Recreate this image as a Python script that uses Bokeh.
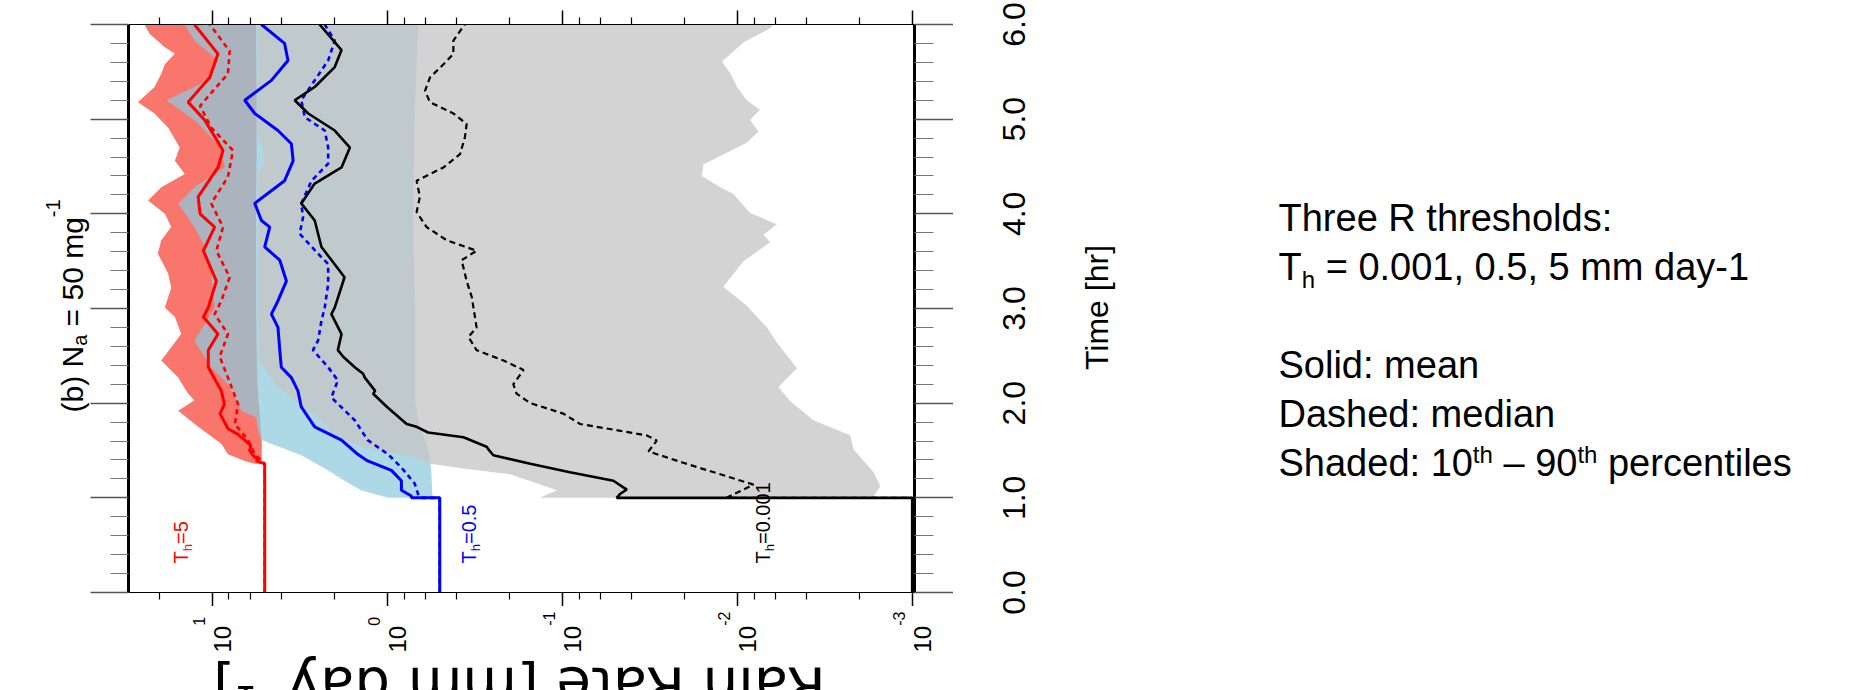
import math
from bokeh.plotting import figure
from bokeh.models import Range1d, LinearAxis, LogAxis, FixedTicker, Label
from bokeh.layouts import row, column
from bokeh.embed import file_html
from bokeh.resources import INLINE

# ---------------- axis ticks ----------------
time_ticks = [0, 1, 2, 3, 4, 5, 6]
time_minor_ticks = [0.2, 0.4, 0.6, 0.8, 1.2, 1.4, 1.6, 1.8, 2.2, 2.4, 2.6, 2.8,
                    3.2, 3.4, 3.6, 3.8, 4.2, 4.4, 4.6, 4.8, 5.2, 5.4, 5.6, 5.8]
time_tick_labels = ["0.0", "1.0", "2.0", "3.0", "4.0", "5.0", "6.0"]
rate_ticks = [10, 1, 0.1, 0.01, 0.001]
rate_minor_ticks = [20, 8, 6, 4, 2, 0.8, 0.6, 0.4, 0.2, 0.08, 0.06, 0.04, 0.02,
                    0.008, 0.006, 0.004, 0.002]
rate_tick_exponents = ["1", "0", "-1", "-2", "-3"]

# ---------------- series: T_h = 5 (red) ----------------
red_mean_t = [0.0, 1.36, 1.39, 1.41, 1.43, 1.46, 1.50, 1.55, 1.61, 1.67, 1.73, 1.89, 1.99,
              2.13, 2.38, 2.56, 2.73, 2.91, 3.01, 3.29, 3.61, 3.86, 4.00, 4.18, 4.49,
              4.67, 4.99, 5.18, 5.44, 5.69, 6.0]
red_mean_v = [5.0, 5.0, 5.6, 5.35, 5.7, 5.9, 6.1, 6.0, 6.5, 7.1, 8.1, 9.0, 8.5,
              8.85, 10.5, 10.5, 9.25, 11.2, 10.5, 9.44, 11.2, 9.66, 11.7, 12.0, 9.25,
              8.65, 11.0, 13.7, 10.3, 9.25, 12.6]
red_med_t = [0.0, 1.36, 1.46, 1.61, 1.78, 1.99, 2.27, 2.49, 2.73, 2.94, 3.08, 3.33, 3.61,
             3.86, 4.11, 4.39, 4.67, 4.91, 5.14, 5.34, 5.48, 5.72, 6.0]
red_med_v = [5.0, 5.0, 5.7, 6.22, 7.41, 7.10, 8.11, 9.04, 8.11, 9.66, 8.85, 7.93, 9.44,
             8.65, 10.1, 8.11, 7.59, 10.1, 11.7, 9.44, 8.11, 7.93, 10.3]
red_p90_t = [1.36, 1.39, 1.46, 1.57, 1.75, 1.92, 2.03, 2.10, 2.27, 2.45, 2.73, 2.91, 3.01,
             3.22, 3.37, 3.58, 3.72, 3.86, 4.00, 4.14, 4.28, 4.42, 4.56, 4.70, 4.91,
             5.06, 5.18, 5.34, 5.48, 5.58, 5.69, 5.76, 5.90, 6.0]
red_p90_v = [5.7, 6.5, 8.11, 8.85, 12.0, 15.6, 12.6, 13.7, 15.6, 19.5, 15.0, 16.3, 18.6,
             17.1, 17.8, 20.4, 19.5, 17.1, 18.6, 23.2, 19.5, 14.3, 16.3, 15.3, 17.8,
             21.3, 26.5, 21.3, 19.5, 18.6, 16.3, 18.6, 22.7, 24.3]
red_p10_t = [1.36, 1.6, 1.9, 2.2, 2.5, 3.0, 4.0, 5.0, 6.0]
red_p10_v = [5.2, 5.2, 5.35, 5.5, 5.55, 5.6, 5.6, 5.55, 5.6]

# ---------------- series: T_h = 0.5 (blue) ----------------
blue_mean_t = [0.0, 1.0, 1.0, 1.02, 1.08, 1.18, 1.29, 1.39, 1.46, 1.61, 1.75, 1.96, 2.13,
               2.27, 2.38, 2.56, 2.80, 2.94, 3.08, 3.29, 3.51, 3.65, 3.86, 3.93, 4.11,
               4.35, 4.56, 4.74, 4.88, 5.06, 5.20, 5.41, 5.62, 5.80, 6.0]
blue_mean_v = [0.5, 0.5, 0.726, 0.726, 0.828, 0.828, 0.944, 1.29, 1.47, 1.82, 2.59, 3.09, 3.23,
               3.52, 4.02, 4.10, 4.20, 4.58, 4.20, 3.76, 4.10, 5.00, 4.68, 5.22, 5.70,
               3.85, 3.44, 3.52, 4.20, 5.70, 6.50, 4.58, 3.68, 3.85, 5.22]
blue_med_t = [0.0, 1.0, 1.0, 1.04, 1.15, 1.32, 1.46, 1.61, 1.82, 2.06, 2.24, 2.38, 2.56,
              2.66, 2.87, 3.01, 3.26, 3.47, 3.58, 3.79, 3.96, 4.11, 4.35, 4.53, 4.70,
              4.88, 5.02, 5.20, 5.41, 5.62, 5.83, 6.0]
blue_med_v = [0.5, 0.5, 0.637, 0.665, 0.695, 0.828, 0.986, 1.29, 1.53, 2.08, 1.91, 2.17, 2.65,
              2.48, 2.37, 2.27, 2.17, 2.17, 2.48, 3.16, 3.02, 3.09, 2.70, 2.17, 2.17,
              2.27, 2.95, 3.09, 2.59, 2.17, 1.99, 2.27]
blue_p90_t = [1.0, 1.08, 1.18, 1.29, 1.45, 1.61, 1.71, 1.85, 1.92, 2.2, 2.38, 2.66, 3.01,
              3.37, 3.65, 3.86, 4.11, 4.28, 4.49, 4.70, 4.99, 5.20, 5.41, 5.62, 5.83, 6.0]
blue_p90_v = [0.986, 1.41, 1.75, 2.17, 3.09, 5.22, 5.46, 5.6, 6.79, 8.11, 10.1, 12.6, 9.66,
              10.1, 11.0, 12.6, 15.6, 12.6, 8.47, 8.85, 12.6, 18.2, 10.5, 9.25, 12.6, 14.3]
blue_p10_t = [1.0, 1.3, 1.5, 1.8, 2.0, 3.0, 3.9, 5.0, 6.0]
blue_p10_v = [0.55, 0.56, 0.58, 0.66, 0.69, 0.69, 0.71, 0.695, 0.665]

# ---------------- series: T_h = 0.001 (black) ----------------
blk_mean_t = [0.0, 1.0, 1.0, 1.04, 1.09, 1.11, 1.18, 1.27, 1.36, 1.45, 1.51, 1.54, 1.64,
              1.69, 1.75, 1.78, 1.96, 2.10, 2.13, 2.27, 2.31, 2.38, 2.49, 2.56, 2.73,
              2.94, 3.01, 3.33, 3.65, 3.93, 4.11, 4.32, 4.49, 4.70, 4.88, 5.06, 5.20,
              5.34, 5.55, 5.73, 6.0]
blk_mean_v = [0.001, 0.001, 0.0488, 0.0467, 0.0427, 0.0447, 0.0509, 0.0902, 0.152, 0.247,
              0.263, 0.270, 0.366, 0.583, 0.678, 0.773, 1.0, 1.20, 1.17, 1.34, 1.37, 1.53,
              1.78, 1.91, 1.82, 2.08, 1.99, 1.75, 2.37, 2.59, 3.09, 2.59, 1.82, 1.63, 1.99,
              2.82, 3.37, 2.59, 1.99, 1.82, 2.43]
blk_med_t = [0.0, 1.0, 1.0, 1.14, 1.37, 1.49, 1.605, 1.66, 1.78, 1.89, 2.0, 2.10, 2.20,
             2.35, 2.45, 2.56, 2.70, 2.80, 3.01, 3.12, 3.29, 3.51, 3.61, 3.72, 3.86, 4.02,
             4.18, 4.35, 4.49, 4.63, 4.81, 4.95, 5.06, 5.18, 5.30, 5.44, 5.58, 5.69, 5.83,
             6.0]
blk_med_v = [0.001, 0.001, 0.0115, 0.00807, 0.0203, 0.0321, 0.0288, 0.0329, 0.0789, 0.0984,
             0.152, 0.182, 0.190, 0.166, 0.216, 0.308, 0.343, 0.308, 0.321, 0.328, 0.351,
             0.375, 0.308, 0.456, 0.594, 0.678, 0.649, 0.678, 0.476, 0.383, 0.359, 0.351,
             0.418, 0.569, 0.607, 0.569, 0.476, 0.418, 0.418, 0.36]
gray_p90_t = [1.0, 1.08, 1.25, 1.31, 1.36, 1.43, 1.535, 1.68, 1.75, 2.17, 2.45, 3.0, 4.45,
              4.55, 4.7, 4.8, 6.0]
gray_p90_v = [0.134, 0.107, 0.198, 0.368, 0.568, 0.71, 1.37, 2.12, 2.17, 4.2, 5.4, 5.45,
              5.45, 5.05, 5.1, 5.45, 5.45]
gray_p10_t = [1.0, 1.02, 1.12, 1.27, 1.51, 1.66, 1.82, 2.02, 2.17, 2.37, 2.64, 2.80, 3.03,
              3.23, 3.50, 3.70, 3.78, 3.89, 4.01, 4.21, 4.28, 4.40, 4.52, 4.75, 4.87, 4.99,
              5.10, 5.20, 5.34, 5.49, 5.61, 5.81, 5.96, 6.0]
gray_p10_v = [0.00152, 0.00166, 0.00152, 0.00166, 0.00216, 0.00226, 0.00366, 0.00498,
              0.00581, 0.00456, 0.00593, 0.00676, 0.00881, 0.0120, 0.0092, 0.00647, 0.00708,
              0.00593, 0.00843, 0.0105, 0.0125, 0.0159, 0.0156, 0.00881, 0.00755, 0.00843,
              0.0074, 0.00881, 0.0100, 0.0110, 0.0122, 0.0092, 0.00647, 0.0062]

# ---------------- page geometry (pixels) ----------------
W, H = 1855, 690
FL, FR, FT, FB = 128, 914, 24, 592          # plot frame
ML, MR, MB = 90, 953, 606                    # main figure incl. tick borders
X_START, X_END = 30.0, 0.00097
T_MIN, T_MAX = 0.0, 6.0
LOG_L, LOG_R = math.log10(X_START), math.log10(X_END)
BASE_K = 0.27      # Bokeh's "alphabetic" anchor sits this many em above the baseline


def sx(px):
    """page pixel x -> rain-rate value on the log axis"""
    return 10 ** (LOG_L + (px - FL) / (FR - FL) * (LOG_R - LOG_L))


def rate_px(v):
    return FL + (math.log10(v) - LOG_L) / (LOG_R - LOG_L) * (FR - FL)


def sy(py):
    """page pixel y -> time value"""
    return T_MIN + (FB - py) / (FB - FT) * (T_MAX - T_MIN)


def t_to_py(t):
    return FB - (t - T_MIN) / (T_MAX - T_MIN) * (FB - FT)


ARIAL = {'T': 611, 'h': 556, 'r': 333, 'e': 556, 'R': 722, 't': 278, 's': 500, 'o': 556,
         'l': 222, 'd': 556, ':': 278, ' ': 278, '=': 584, '0': 556, '1': 556, '2': 556,
         '3': 556, '5': 556, '9': 556, '.': 278, ',': 278, 'm': 833, 'a': 556, 'y': 500,
         '-': 333, 'S': 667, 'i': 222, 'n': 556, 'D': 722, 'p': 556, 'c': 500,
         '\u2013': 556, '(': 333, ')': 333, 'b': 556, 'N': 722, 'g': 556}


def adv(text, size):
    return sum(ARIAL.get(c, 556) for c in text) * size / 1000.0


FONT = "Liberation Sans"


def blank(fig):
    fig.outline_line_color = None
    fig.background_fill_color = "white"
    fig.border_fill_color = "white"
    fig.xgrid.visible = False
    fig.ygrid.visible = False
    try:
        fig.frame_align = False
    except Exception:
        pass


def rotated_pieces(fig, to_x, to_y, base_px, start_py, pieces, color="black"):
    """text reading bottom-to-top; base_px is the wanted baseline x (page px)."""
    along = 0.0
    for text, size, shift in pieces:
        lead = len(text) - len(text.lstrip(" "))
        along += adv(" " * lead, size)
        body = text.lstrip(" ")
        fig.add_layout(Label(x=to_x(base_px + shift - BASE_K * size),
                             y=to_y(start_py - along), text=body,
                             text_font=FONT, text_font_size=f"{size}px", text_color=color,
                             angle=math.pi / 2, text_align="left",
                             text_baseline="alphabetic"))
        along += adv(body, size)


# ================= main plot =================
p = figure(width=MR - ML, height=MB, x_axis_type="log", title=None,
           x_range=Range1d(X_START, X_END), y_range=Range1d(T_MIN, T_MAX),
           output_backend="svg", toolbar_location=None,
           min_border_left=FL - ML, min_border_right=MR - FR,
           min_border_top=FT, min_border_bottom=MB - FB)
blank(p)

rate_ticker = FixedTicker(ticks=rate_ticks, minor_ticks=rate_minor_ticks)
time_ticker = FixedTicker(ticks=time_ticks, minor_ticks=time_minor_ticks)


def style_rate_axis(ax):
    ax.ticker = rate_ticker
    ax.major_tick_out = 14
    ax.major_tick_in = 0
    ax.minor_tick_out = 7
    ax.minor_tick_in = 0
    ax.axis_line_width = 1.2
    ax.axis_line_color = "black"
    ax.major_tick_line_color = "black"
    ax.major_tick_line_width = 1.5
    ax.minor_tick_line_color = "black"
    ax.minor_tick_line_width = 1.2
    ax.major_label_text_color = None
    ax.major_label_text_font_size = "0px"
    ax.major_label_standoff = 0


def style_time_axis(ax, major, minor):
    ax.ticker = time_ticker
    ax.major_tick_out = major
    ax.major_tick_in = 0
    ax.minor_tick_out = minor
    ax.minor_tick_in = 0
    ax.axis_line_width = 3
    ax.axis_line_color = "black"
    ax.major_tick_line_color = "#555555"
    ax.major_tick_line_width = 1.3
    ax.minor_tick_line_color = "#777777"
    ax.minor_tick_line_width = 1.1
    ax.major_label_text_color = None
    ax.major_label_text_font_size = "0px"
    ax.major_label_standoff = 0


style_rate_axis(p.xaxis[0])
top_axis = LogAxis()
style_rate_axis(top_axis)
p.add_layout(top_axis, "above")
style_time_axis(p.yaxis[0], FL - ML, 18)
right_axis = LinearAxis()
style_time_axis(right_axis, MR - FR, 19)
p.add_layout(right_axis, "right")


def band(t_hi, v_hi, t_lo, v_lo, color, alpha):
    xs = list(v_hi) + list(v_lo)[::-1]
    ys = list(t_hi) + list(t_lo)[::-1]
    p.patch(xs, ys, fill_color=color, fill_alpha=alpha, line_color=None)


band(red_p90_t, red_p90_v, red_p10_t, red_p10_v, "#F8766C", 1.0)
band(blue_p90_t, blue_p90_v, blue_p10_t, blue_p10_v, "#8FCADD", 0.735)
band(gray_p90_t, gray_p90_v, gray_p10_t, gray_p10_v, "#C6C6C6", 0.77)

p.line(red_med_v, red_med_t, line_color="#FF0000", line_width=2.6, line_dash="5 4")
p.line(red_mean_v, red_mean_t, line_color="#FF0000", line_width=3)
p.line(blue_med_v, blue_med_t, line_color="#0000FF", line_width=2.6, line_dash="5 4")
p.line(blue_mean_v, blue_mean_t, line_color="#0000FF", line_width=3)
p.line(blk_med_v, blk_med_t, line_color="black", line_width=2.2, line_dash="6 4")
p.line(blk_mean_v, blk_mean_t, line_color="black", line_width=2.6)

rotated_pieces(p, sx, sy, 186, 563, [("T", 20, 0), ("h", 13, 5), ("=5", 20, 0)], "#FF0000")
rotated_pieces(p, sx, sy, 474, 563, [("T", 20, 0), ("h", 13, 5), ("=0.5", 20, 0)], "#0000FF")
rotated_pieces(p, sx, sy, 768, 563, [("T", 20, 0), ("h", 13, 5), ("=0.001", 20, 0)], "black")

# ================= strip below: rain-rate tick labels and axis title =================
pb = figure(width=MR - ML, height=H - MB, x_axis_type="log", title=None,
            x_range=Range1d(sx(ML), sx(MR)), y_range=Range1d(H, MB),
            x_axis_location=None, y_axis_location=None,
            output_backend="svg", toolbar_location=None, min_border=0)
blank(pb)
ident = (lambda v: v)
for v, e in zip(rate_ticks, rate_tick_exponents):
    tp = rate_px(v)
    rotated_pieces(pb, sx, ident, tp + 17, 652, [("10", 24, 0), (e, 16, -26)])
RL_SIZE = 56
pb.add_layout(Label(x=sx(519), y=687, text="Rain Rate [mm day\u207b\u00b9]",
                    text_font="DejaVu Sans", text_font_size=f"{RL_SIZE}px", text_color="black",
                    angle=math.pi, text_align="center", text_baseline="alphabetic"))

# ================= strip left: panel title =================
pl = figure(width=ML, height=H, title=None, x_range=Range1d(0, ML), y_range=Range1d(H, 0),
            x_axis_location=None, y_axis_location=None,
            output_backend="svg", toolbar_location=None, min_border=0)
blank(pl)
rotated_pieces(pl, ident, ident, 80, 412,
               [("(b) N", 30, 0), ("a", 20, 5), (" = 50 mg", 30, 0), ("-1", 20, -22)])

# ================= strip right: time tick labels, axis title, notes =================
pr = figure(width=W - MR, height=H, title=None, x_range=Range1d(MR, W), y_range=Range1d(H, 0),
            x_axis_location=None, y_axis_location=None,
            output_backend="svg", toolbar_location=None, min_border=0)
blank(pr)
TL_SIZE = 32
for t, s in zip(time_ticks, time_tick_labels):
    pr.add_layout(Label(x=1011 + 0.358 * TL_SIZE - BASE_K * TL_SIZE, y=t_to_py(t), text=s,
                        text_font=FONT, text_font_size=f"{TL_SIZE}px", text_color="black",
                        angle=math.pi / 2, text_align="center", text_baseline="alphabetic"))
pr.add_layout(Label(x=1105 - BASE_K * 32, y=307, text="Time [hr]", text_font=FONT,
                    text_font_size="32px", text_color="black",
                    angle=math.pi / 2, text_align="center", text_baseline="alphabetic"))


def note_line(px, base_py, pieces):
    """horizontal text made of pieces (text, size, baseline shift)."""
    x = px
    for text, size, dy in pieces:
        lead = len(text) - len(text.lstrip(" "))
        x += adv(" " * lead, size)
        body = text.lstrip(" ")
        pr.add_layout(Label(x=x, y=base_py + dy - BASE_K * size, text=body, text_font=FONT,
                            text_font_size=f"{size}px", text_color="black",
                            text_align="left", text_baseline="alphabetic"))
        x += adv(body, size)


X0, FS, SUB = 1278, 38, 24
note_line(X0, 228, [("Three R thresholds:", FS, 0)])
note_line(X0, 277, [("T", FS, 0), ("h", SUB, 8), (" = 0.001, 0.5, 5 mm day-1", FS, 0)])
note_line(X0, 375, [("Solid: mean", FS, 0)])
note_line(X0, 424, [("Dashed: median", FS, 0)])
note_line(X0, 473, [("Shaded: 10", FS, 0), ("th", SUB, -13), (" \u2013 90", FS, 0),
                    ("th", SUB, -13), (" percentiles", FS, 0)])

layout = row(pl, column(p, pb), pr)
open("out.html", "w").write(file_html(layout, INLINE))
